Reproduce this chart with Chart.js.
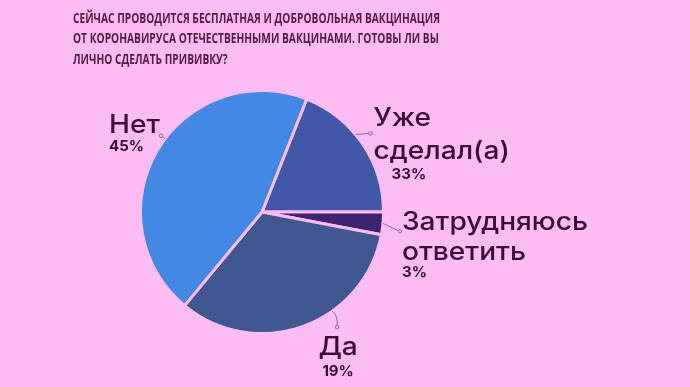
<!DOCTYPE html>
<html>
<head>
<meta charset="utf-8">
<script src="https://cdn.jsdelivr.net/npm/chart.js@4/dist/chart.umd.min.js"></script>
<style>
html,body{margin:0;padding:0;background:#fbbdf4;}
#wrap{width:690px;height:387px;position:relative;}
</style>
</head>
<body>
<div id="wrap"><canvas id="c" width="690" height="387"></canvas></div>
<script>
// ---- data ----
const categories = ['Уже сделал(а)', 'Затрудняюсь ответить', 'Да', 'Нет'];
const values = [19, 3, 33, 45];
const percentLabels = ['33%', '3%', '19%', '45%'];
const nameLines = [['Уже', 'сделал(а)'], ['Затрудняюсь', 'ответить'], ['Да'], ['Нет']];
const titleLines = [
  'СЕЙЧАС ПРОВОДИТСЯ БЕСПЛАТНАЯ И ДОБРОВОЛЬНАЯ ВАКЦИНАЦИЯ',
  'ОТ КОРОНАВИРУСА ОТЕЧЕСТВЕННЫМИ ВАКЦИНАМИ. ГОТОВЫ ЛИ ВЫ',
  'ЛИЧНО СДЕЛАТЬ ПРИВИВКУ?'
];

// ---- styles ----
const BG = '#fbbdf4';
const sliceColors = ['#4157a8', '#3d2370', '#40578f', '#4288e4'];
const TEXT = '#3a0c35';
const LEADER = '#8a6c98';
const labelStyle = [
  {frac: 0.42, ex: 15, ey: -1, curve: false, align: 'left', nx: 3, ny: [-7, 26], px: 21, py: 46},
  {frac: 0.5,  ex: 17, ey: 8,  curve: false, align: 'left', nx: 2, ny: [-1, 29], px: 2, py: 46},
  {frac: 0.37, ex: 5,  ey: 16, curve: true,  align: 'center', nx: 1, ny: [28], px: 1, py: 49},
  {frac: 0.54, ex: -4, ey: -3, curve: false, align: 'left', nx: -52, ny: [-3], px: -52, py: 15}
];

const bgPlugin = {
  id: 'bgTitle',
  beforeDraw(chart) {
    const ctx = chart.ctx;
    ctx.save();
    ctx.fillStyle = BG;
    ctx.fillRect(0, 0, chart.width, chart.height);
    ctx.font = '700 15px "Open Sans"';
    ctx.fillStyle = '#5a1641';
    ctx.textBaseline = 'alphabetic';
    const w0 = ctx.measureText(titleLines[0]).width;
    const sx = 367 / w0;
    titleLines.forEach((t, i) => {
      ctx.save();
      ctx.translate(73, 22.5 + i * 20.5);
      ctx.scale(sx, 1);
      ctx.fillText(t, 0, 0);
      ctx.restore();
    });
    ctx.restore();
  }
};

const labelPlugin = {
  id: 'pieLabels',
  afterDatasetsDraw(chart) {
    const ctx = chart.ctx;
    const meta = chart.getDatasetMeta(0);
    ctx.save();
    ctx.font = '500 25px Inter';
    const nameScale = 186 / ctx.measureText('Затрудняюсь').width;
    meta.data.forEach((arc, i) => {
      const st = labelStyle[i];
      const p = arc.getProps(['x', 'y', 'startAngle', 'endAngle', 'outerRadius'], true);
      const a = p.startAngle + st.frac * (p.endAngle - p.startAngle);
      const sx = p.x + p.outerRadius * Math.cos(a);
      const sy = p.y + p.outerRadius * Math.sin(a);
      const ex = sx + st.ex, ey = sy + st.ey;
      ctx.strokeStyle = LEADER;
      ctx.lineWidth = 1;
      ctx.beginPath();
      ctx.moveTo(sx, sy);
      if (st.curve) ctx.quadraticCurveTo(sx + st.ex * 1.2, sy + st.ey * 0.2, ex, ey);
      else ctx.lineTo(ex, ey);
      ctx.stroke();
      ctx.beginPath();
      ctx.arc(ex, ey, 1.8, 0, Math.PI * 2);
      ctx.fillStyle = BG;
      ctx.fill();
      ctx.stroke();

      ctx.fillStyle = TEXT;
      ctx.textAlign = st.align;
      ctx.textBaseline = 'alphabetic';
      ctx.font = '500 25px Inter';
      nameLines[i].forEach((ln, k) => {
        ctx.save();
        ctx.translate(ex + st.nx, ey + st.ny[k]);
        ctx.scale(nameScale, 1);
        ctx.fillText(ln, 0, 0);
        ctx.restore();
      });
      ctx.font = 'bold 15px Inter';
      ctx.fillText(percentLabels[i], ex + st.px, ey + st.py);
    });
    ctx.restore();
  }
};

new Chart(document.getElementById('c'), {
  type: 'pie',
  data: {
    labels: categories,
    datasets: [{
      data: values,
      backgroundColor: sliceColors,
      borderColor: BG,
      borderWidth: 3,
      hoverOffset: 0
    }]
  },
  options: {
    responsive: false,
    animation: false,
    rotation: 21.6,
    layout: {padding: {left: 139, right: 305, top: 89, bottom: 52}},
    plugins: {legend: {display: false}, tooltip: {enabled: false}, title: {display: false}}
  },
  plugins: [bgPlugin, labelPlugin]
});
</script>
</body>
</html>
